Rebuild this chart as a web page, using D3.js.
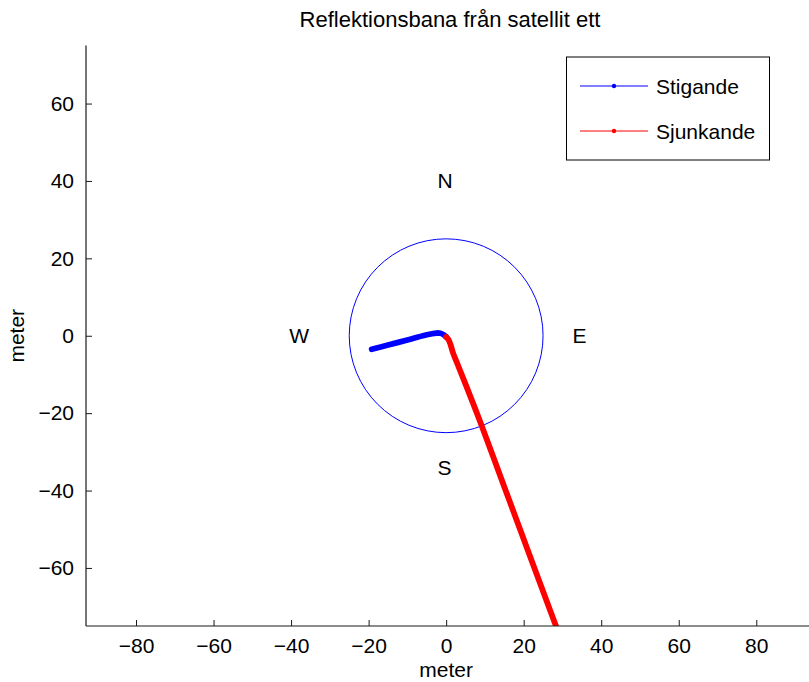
<!DOCTYPE html>
<html>
<head>
<meta charset="utf-8">
<script src="https://cdn.jsdelivr.net/npm/d3@7"></script>
<style>
  body { margin: 0; background: #fff; }
  svg { display: block; font-family: "Liberation Sans", Arial, Helvetica, sans-serif; }
</style>
</head>
<body>
<svg id="chart" width="809" height="682"></svg>
<script>
// Reflection track, rising part (x, y in metres)
const risingX = [-19.2, -15, -10, -6, -4, -2.5, -1.5, -0.7, 0];
const risingY = [-3.5, -2.4, -1.1, 0.0, 0.45, 0.7, 0.65, 0.3, -0.3];
// Reflection track, setting part
const settingX = [0, 0.6, 1.2, 1.8, 3, 5, 9, 14.8, 19.8, 24.8, 28.7];
const settingY = [-0.3, -1, -2.5, -4.5, -7.5, -12.5, -22.8, -38.5, -52, -65.5, -76];

const xTicks = [-80, -60, -40, -20, 0, 20, 40, 60, 80];
const yTicks = [-60, -40, -20, 0, 20, 40, 60];

const circleRadius = 25;
const compass = [
  { label: "N", x: -2.2, y: 40.2 },
  { label: "S", x: -2.2, y: -34 },
  { label: "W", x: -40.5, y: 0 },
  { label: "E", x: 32.6, y: 0 }
];

const seriesNames = ["Stigande", "Sjunkande"];
const seriesColors = ["#0000ff", "#ff0000"];

const svg = d3.select("#chart");
const plotLeft = 86, plotRight = 809, plotTop = 45.5, plotBottom = 626;

const x = d3.scaleLinear().domain([-92.9, 93.6]).range([plotLeft, plotRight]);
const y = d3.scaleLinear().domain([-75, 75]).range([plotBottom, plotTop]);

const fontSize = 21;

// clip region for plotted data
svg.append("defs").append("clipPath").attr("id", "plotClip")
  .append("rect").attr("x", plotLeft).attr("y", plotTop)
  .attr("width", plotRight - plotLeft).attr("height", plotBottom - plotTop);

const plot = svg.append("g").attr("clip-path", "url(#plotClip)");

// circle of radius 25 m around the receiver
plot.append("circle")
  .attr("cx", x(0)).attr("cy", y(0))
  .attr("r", x(circleRadius) - x(0))
  .attr("fill", "none").attr("stroke", "#0000ff").attr("stroke-width", 1);

const line = d3.line().x(d => x(d[0])).y(d => y(d[1])).curve(d3.curveCatmullRom);

const rising = risingX.map((v, i) => [v, risingY[i]]);
const setting = settingX.map((v, i) => [v, settingY[i]]);

[rising, setting].forEach((pts, i) => {
  plot.append("path")
    .datum(pts)
    .attr("d", line)
    .attr("fill", "none")
    .attr("stroke", seriesColors[i])
    .attr("stroke-width", 5.8)
    .attr("stroke-linecap", "round")
    .attr("stroke-linejoin", "round");
});

// compass labels
svg.append("g").selectAll("text").data(compass).join("text")
  .attr("x", d => x(d.x)).attr("y", d => y(d.y))
  .attr("dy", "0.36em")
  .attr("font-size", fontSize)
  .attr("fill", "#000")
  .text(d => d.label);

// axes
const fmt = d3.format("d");
const xAxis = d3.axisBottom(x).tickValues(xTicks).tickFormat(fmt).tickSizeInner(-6).tickSizeOuter(0).tickPadding(12);
const yAxis = d3.axisLeft(y).tickValues(yTicks).tickFormat(fmt).tickSizeInner(-6).tickSizeOuter(0).tickPadding(12);

const gx = svg.append("g").attr("transform", `translate(0,${plotBottom})`).call(xAxis);
const gy = svg.append("g").attr("transform", `translate(${plotLeft},0)`).call(yAxis);

[gx, gy].forEach(g => {
  g.select(".domain").attr("stroke", "#1a1a1a").attr("stroke-width", 1.2);
  g.selectAll(".tick line").attr("stroke", "#1a1a1a").attr("stroke-width", 1);
  g.selectAll(".tick text").attr("font-size", fontSize).attr("fill", "#000")
    .attr("font-family", "Liberation Sans, Arial, sans-serif");
});
gx.select(".domain").attr("d", `M${plotLeft},0H${plotRight}`);
gy.select(".domain").attr("d", `M0,${plotTop}V${plotBottom}`);

// title and axis labels
svg.append("text")
  .attr("x", 450).attr("y", 27)
  .attr("text-anchor", "middle")
  .attr("font-size", 22)
  .text("Reflektionsbana från satellit ett");

svg.append("text")
  .attr("x", x(0)).attr("y", 677)
  .attr("text-anchor", "middle")
  .attr("font-size", fontSize)
  .text("meter");

svg.append("text")
  .attr("transform", `translate(24,${y(0)}) rotate(-90)`)
  .attr("text-anchor", "middle")
  .attr("font-size", fontSize)
  .text("meter");

// legend
const legend = svg.append("g");
legend.append("rect")
  .attr("x", 566.5).attr("y", 57)
  .attr("width", 203).attr("height", 103)
  .attr("fill", "#fff").attr("stroke", "#000").attr("stroke-width", 1);

const legendRows = [86, 131];
seriesNames.forEach((name, i) => {
  const ly = legendRows[i];
  legend.append("line")
    .attr("x1", 580).attr("x2", 648).attr("y1", ly).attr("y2", ly)
    .attr("stroke", seriesColors[i]).attr("stroke-width", 1);
  legend.append("circle")
    .attr("cx", 614).attr("cy", ly).attr("r", 2.2)
    .attr("fill", seriesColors[i]);
  legend.append("text")
    .attr("x", 656).attr("y", ly).attr("dy", "0.36em")
    .attr("font-size", fontSize)
    .text(name);
});
</script>
</body>
</html>
